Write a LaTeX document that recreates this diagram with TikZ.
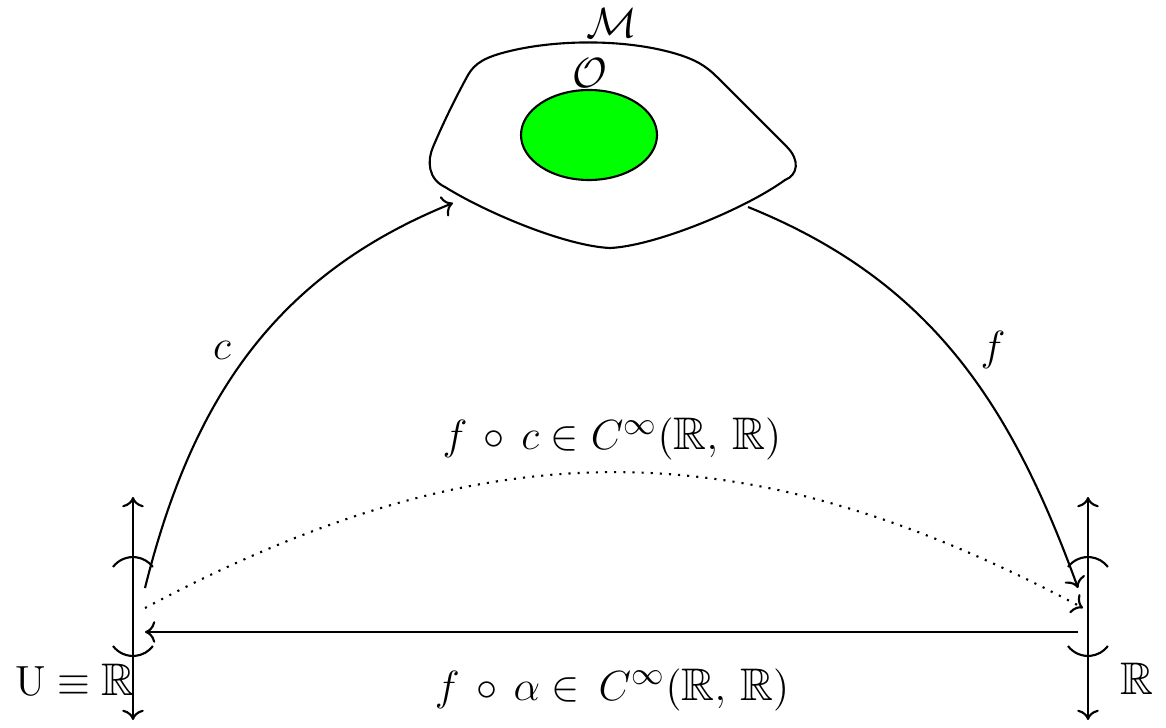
\documentclass[tikz,border=0pt]{standalone}
\usepackage{amsmath,amssymb}
\usetikzlibrary{arrows.meta}

\tikzset{
  axisline/.style={semithick, <->},
  paren/.style={semithick},
  mapto/.style={semithick, ->},
  lbl/.style={font=\fontsize{13}{15}\selectfont, inner sep=1pt},
}

\begin{document}
\begin{tikzpicture}[>=To, semithick]

\useasboundingbox (0,0) rectangle (11.66,7.27);

%% Manifold M with open set O
\draw (4.33,5.80) .. controls (4.45,6.08) and (4.56,6.30) .. (4.68,6.52)
  .. controls (4.75,6.64) and (4.85,6.70) .. (5.10,6.76)
  .. controls (5.60,6.88) and (6.30,6.88) .. (6.80,6.72)
  .. controls (6.95,6.67) and (7.05,6.62) .. (7.17,6.50)
  -- (7.87,5.80)
  .. controls (8.00,5.67) and (7.98,5.52) .. (7.85,5.47)
  .. controls (7.45,5.18) and (6.55,4.81) .. (6.10,4.79)
  .. controls (5.65,4.81) and (4.85,5.15) .. (4.45,5.40)
  .. controls (4.28,5.48) and (4.27,5.66) .. cycle;
\draw[fill=green] (5.89,5.92) ellipse [x radius=0.68, y radius=0.45];
\node[lbl, anchor=base] (mLabel) at (6.12,6.89) {$\mathcal{M}$};
\node[lbl, anchor=base] (oLabel) at (5.90,6.39) {$\mathcal{O}$};

% Left line U
\coordinate (uTop) at (1.33,2.30);
\coordinate (uBot) at (1.33,0.07);
\draw[axisline] (uBot) -- (uTop);
\draw[paren] (1.13,1.60) arc[start angle=143, end angle=37, radius=0.25];
\draw[paren] (1.13,0.81) arc[start angle=217, end angle=323, radius=0.25];
\node[lbl, anchor=base east, inner sep=0pt] (uLabel) at (1.36,0.32) {$\mathrm{U}\equiv\mathbb{R}$};

% Right line R
\coordinate (rTop) at (10.88,2.30);
\coordinate (rBot) at (10.88,0.07);
\draw[axisline] (rBot) -- (rTop);
\draw[paren] (10.68,1.60) arc[start angle=143, end angle=37, radius=0.25];
\draw[paren] (10.68,0.81) arc[start angle=217, end angle=323, radius=0.25];
\node[lbl, anchor=base] (rLabel) at (11.37,0.33) {$\mathbb{R}$};

% Maps
\coordinate (cStart) at (1.45,1.39);
\coordinate (cEnd) at (4.53,5.24);
\coordinate (fStart) at (7.48,5.20);
\coordinate (fEnd) at (10.78,1.39);
\draw[mapto] (cStart) to[out=76, in=202] (cEnd);
\draw[mapto] (fStart) to[out=-22, in=110] (fEnd);
\node[lbl] (cLabel) at (2.22,3.77) {$c$};
\node[lbl] (fLabel) at (9.93,3.77) {$f$};

% Composition
\coordinate (fcStart) at (1.45,1.19);
\coordinate (fcEnd) at (10.83,1.19);
\draw[mapto, dotted] (fcStart) .. controls (4.85,3.00) and (7.43,3.00) .. (fcEnd);
\node[lbl, anchor=base] (fcLabel) at (6.12,2.77) {$f\,\circ\,c\in C^{\infty}(\mathbb{R},\,\mathbb{R})$};

\coordinate (faStart) at (10.78,0.95);
\coordinate (faEnd) at (1.45,0.95);
\draw[mapto] (faStart) -- (faEnd);
\node[lbl, anchor=base] (faLabel) at (6.12,0.27) {$f\,\circ\,\alpha\in\,C^{\infty}(\mathbb{R},\,\mathbb{R})$};

\end{tikzpicture}
\end{document}
